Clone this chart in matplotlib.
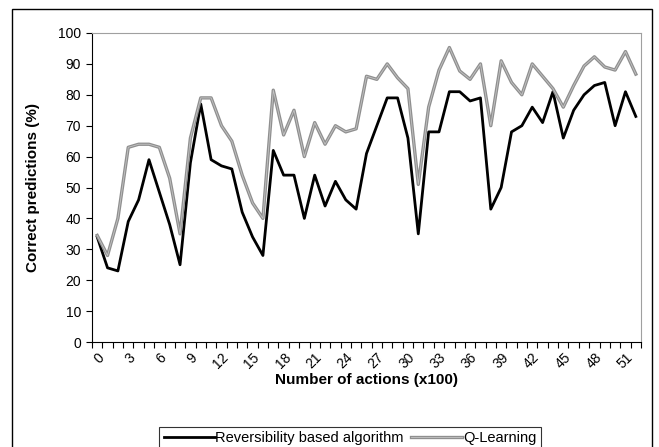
import matplotlib
matplotlib.use('Agg')
import matplotlib.pyplot as plt
from matplotlib.patches import Rectangle
from matplotlib.ticker import FixedLocator, NullFormatter

plt.rcParams['font.family'] = ['Liberation Sans', 'DejaVu Sans']

# data (x = number of actions x100)
actions = list(range(53))
reversibility = [34, 24, 23, 39, 46, 59, 48.5, 38, 25, 58,
                 77, 59, 57, 56, 42, 34, 28, 62, 54, 54,
                 40, 54, 44, 52, 46, 43, 61, 70, 79, 79,
                 66, 35, 68, 68, 81, 81, 78, 79, 43, 50,
                 68, 70, 76, 71, 81, 66, 75, 80, 83, 84,
                 70, 81, 73]
qlearning = [34.5, 28, 40, 63, 64, 64, 63, 53, 35, 66,
             79, 79, 70, 65, 54, 45, 40, 81.5, 67, 75,
             60, 71, 64, 70, 68, 69, 86, 85, 90, 85.5,
             82, 51, 76, 88, 95.3, 87.7, 85, 90, 70, 91,
             84, 80, 90, 86, 82, 76, 83, 89.3, 92.3, 89,
             88, 94, 86.7]
tick_labels = [str(a) for a in actions[::3]]

fig = plt.figure(figsize=(6.59, 4.47), dpi=100)
ax = fig.add_axes([92/659, 1 - 342/447, (641-92)/659, (342-33)/447])

l_rev, = ax.plot(actions, reversibility, color='black', lw=2)
q_out, = ax.plot(actions, qlearning, color='#8f8f8f', lw=2.4)
q_in, = ax.plot(actions, qlearning, color='#c4c4c4', lw=0.6)

ax.set_xlim(-0.5, 52.5)
ax.set_ylim(0, 100)
ax.set_yticks(range(0, 101, 10))
ax.tick_params(axis='y', labelsize=10, length=4, width=0.8, pad=4)

ax.set_xticks(actions[::3])
ax.set_xticklabels(tick_labels, rotation=45, ha='right', rotation_mode='anchor')
ax.xaxis.set_minor_locator(FixedLocator([i - 0.5 for i in range(54)]))
ax.xaxis.set_minor_formatter(NullFormatter())
ax.tick_params(axis='x', which='major', length=0, labelsize=10, pad=6)
ax.tick_params(axis='x', which='minor', length=4, width=0.8)

for s in ['top', 'right']:
    ax.spines[s].set_color('#a0a0a0')
for s in ['left', 'bottom']:
    ax.spines[s].set_color('black')

ax.set_xlabel('Number of actions (x100)', fontsize=11, fontweight='bold', labelpad=1)
ax.set_ylabel('Correct predictions (%)', fontsize=11, fontweight='bold', labelpad=13)

leg = fig.legend([l_rev, (q_out, q_in)], ['Reversibility based algorithm', 'Q-Learning'],
                 loc='upper center', bbox_to_anchor=(350/659, 1 - 427/447), ncol=2,
                 fontsize=10.5, frameon=True, fancybox=False, borderpad=0.3,
                 handlelength=3.5, handletextpad=0.05, columnspacing=0.5,
                 borderaxespad=0)
leg.get_frame().set_edgecolor('black')
leg.get_frame().set_linewidth(0.8)

# outer chart border
fig.patches.append(Rectangle((12/659, -0.05), (652-12)/659, 1.05 - 9/447,
                             transform=fig.transFigure, fill=False,
                             edgecolor='black', lw=1))

fig.savefig('out.png', dpi=100)
